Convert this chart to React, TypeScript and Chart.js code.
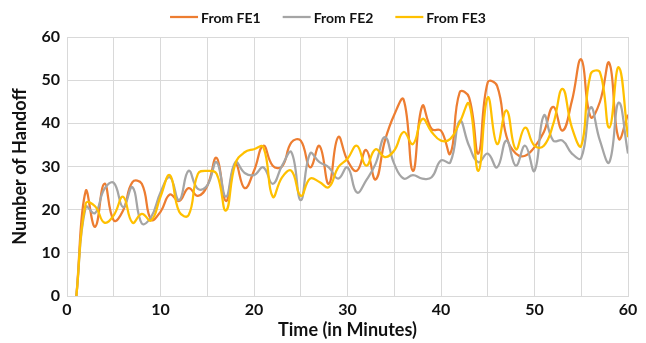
import React, { useEffect, useRef } from "react";
import { Chart, registerables } from "chart.js";

Chart.register(...registerables);

const MINUTES = [
  1, 2, 3, 4, 5, 6, 7, 8, 9, 10, 11, 12, 13, 14, 15, 16, 17, 18, 19, 20,
  21, 22, 23, 24, 25, 26, 27, 28, 29, 30, 31, 32, 33, 34, 35, 36, 37, 38, 39, 40,
  41, 42, 43, 44, 45, 46, 47, 48, 49, 50, 51, 52, 53, 54, 55, 56, 57, 58, 59, 60,
];

const FE1 = [
  0, 24.3, 16, 26, 17.5, 19.8, 26.4, 26, 17.7, 19.5, 23.5, 22, 25, 23.2, 25.5, 32, 22, 30.6, 25, 29,
  34.8, 30.2, 30, 35.6, 36, 29.8, 34.8, 26, 36.8, 31.4, 29, 33.8, 27, 36, 42, 45.5, 29, 44, 38.7, 38.3,
  33, 47.2, 46, 33, 49.5, 48.7, 37, 33, 32.5, 34.5, 38, 43.8, 38.3, 45.2, 54.8, 41.5, 45, 54, 36.5, 42,
];

const FE2 = [
  0, 20.6, 19.2, 24.8, 26.2, 20.6, 25.2, 16.8, 18.3, 24, 27.5, 22.2, 29, 24.8, 25.6, 31, 23, 31, 28.5, 28,
  29.8, 26, 30.2, 33.3, 22.2, 33, 31, 29.8, 27.2, 29.8, 24, 26.8, 30.6, 36.8, 30.6, 27.2, 28, 27.2, 27.5, 31.4,
  31, 40.6, 34.8, 31, 33, 29.8, 36, 30.2, 34.8, 29, 41.8, 36, 36, 33, 32, 43.7, 36, 31, 44.8, 33,
];

const FE3 = [
  0, 21.4, 20.8, 17, 18.7, 23, 17, 19, 17.5, 23, 28, 19.5, 18.7, 28.3, 29, 28.3, 19.8, 30.6, 33.3, 34,
  34.5, 23, 27.5, 29, 23.2, 27.2, 26.4, 25.2, 29.8, 31.8, 34.8, 30.2, 34, 32.2, 33.7, 38, 35.2, 41, 38, 36,
  36.4, 40.2, 44.5, 29, 46, 35.2, 43, 34, 39, 34.8, 34.8, 39.8, 48, 39, 34.8, 51.4, 51.8, 39, 53, 36.8,
];

const SERIES_NAMES = ["From FE1", "From FE2", "From FE3"];
const SERIES_COLORS = ["#ED7D31", "#A5A5A5", "#FFC000"];
const X_TITLE = "Time (in Minutes)";
const Y_TITLE = "Number of Handoff";

const FONT = "Lato, 'Open Sans', sans-serif";
const TEXT_COLOR = "#111111";
const GRID_COLOR = "#D9D9D9";

const legendPlugin = {
  id: "customLegend",
  afterDraw(chart: any) {
    const ctx = chart.ctx;
    ctx.save();
    ctx.font = `bold 14px ${FONT}`;
    ctx.textBaseline = "middle";
    ctx.textAlign = "left";
    const lineW = 28;
    const gapLT = 3;
    const gapItems = 22;
    const widths = SERIES_NAMES.map((n) => lineW + gapLT + ctx.measureText(n).width);
    const total = widths.reduce((a, b) => a + b, 0) + gapItems * (SERIES_NAMES.length - 1);
    let x = 328 - total / 2;
    const y = 17;
    SERIES_NAMES.forEach((name, i) => {
      ctx.strokeStyle = SERIES_COLORS[i];
      ctx.lineWidth = 2.25;
      ctx.beginPath();
      ctx.moveTo(x, y);
      ctx.lineTo(x + lineW, y);
      ctx.stroke();
      ctx.fillStyle = TEXT_COLOR;
      ctx.fillText(name, x + lineW + gapLT, y + 1);
      x += widths[i] + gapItems;
    });
    ctx.restore();
  },
};

export default function App() {
  const canvasRef = useRef<HTMLCanvasElement | null>(null);

  useEffect(() => {
    if (!canvasRef.current) return;
    const seriesData = [FE1, FE2, FE3];
    const chart = new Chart(canvasRef.current, {
      type: "line",
      data: {
        datasets: seriesData.map((vals, i) => ({
          label: SERIES_NAMES[i],
          data: MINUTES.map((m, j) => ({ x: m, y: vals[j] })),
          borderColor: SERIES_COLORS[i],
          backgroundColor: SERIES_COLORS[i],
          borderWidth: 2.25,
          pointRadius: 0,
          tension: 0.45,
          fill: false,
          order: 2 - i,
        })),
      },
      options: {
        animation: false,
        responsive: false,
        maintainAspectRatio: false,
        layout: { padding: { top: 37, right: 18, left: 0, bottom: 0 } },
        plugins: {
          legend: { display: false },
          tooltip: { enabled: false },
        },
        scales: {
          x: {
            type: "linear",
            min: 0,
            max: 60,
            afterFit: (scale: any) => {
              scale.height = 47;
            },
            grid: { color: GRID_COLOR, lineWidth: 1, drawTicks: false },
            border: { color: GRID_COLOR, width: 1 },
            ticks: {
              stepSize: 5,
              autoSkip: false,
              maxRotation: 0,
              padding: 4,
              color: TEXT_COLOR,
              font: { family: FONT, size: 16, weight: "bold" },
              callback: (v: any) => (Number(v) % 10 === 0 ? String(v) : ""),
            },
            title: {
              display: true,
              text: X_TITLE,
              color: TEXT_COLOR,
              font: { family: FONT, size: 18, weight: "bold" },
              padding: { top: 0, bottom: 2 },
            },
          },
          y: {
            type: "linear",
            min: 0,
            max: 60,
            afterFit: (scale: any) => {
              scale.width = 67;
            },
            grid: { color: GRID_COLOR, lineWidth: 1, drawTicks: false },
            border: { color: GRID_COLOR, width: 1 },
            ticks: {
              stepSize: 10,
              padding: 7,
              color: TEXT_COLOR,
              font: { family: FONT, size: 16, weight: "bold" },
            },
            title: {
              display: true,
              text: Y_TITLE,
              color: TEXT_COLOR,
              font: { family: FONT, size: 18, weight: "bold" },
              padding: { top: 9, bottom: 0 },
            },
          },
        },
      },
      plugins: [legendPlugin],
    });
    return () => chart.destroy();
  }, []);

  return (
    <div style={{ position: "absolute", left: 0, top: 0, width: 646, height: 343, background: "#fff" }}>
      <canvas ref={canvasRef} width={646} height={343} style={{ display: "block", width: 646, height: 343 }} />
    </div>
  );
}
